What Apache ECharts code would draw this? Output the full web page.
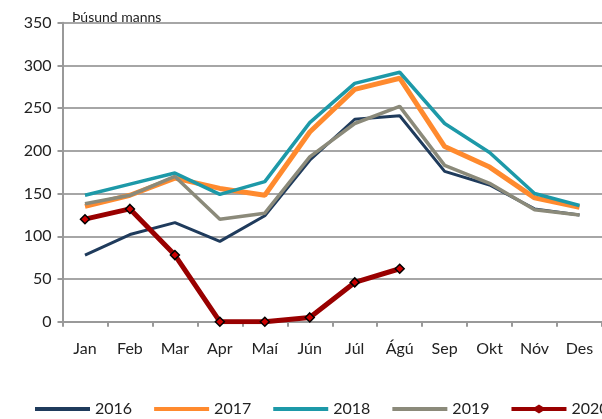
<!DOCTYPE html>
<html>
<head>
<meta charset="utf-8">
<script src="https://cdn.jsdelivr.net/npm/echarts@6/dist/echarts.min.js"></script>
<style>
  html, body { margin: 0; padding: 0; background: #fff; }
  #chart { width: 602px; height: 419px; }
</style>
</head>
<body>
<div id="chart"></div>
<script>
// mánuðir
var months = ['Jan', 'Feb', 'Mar', 'Apr', 'Maí', 'Jún', 'Júl', 'Ágú', 'Sep', 'Okt', 'Nóv', 'Des'];
var yTicks = [0, 50, 100, 150, 200, 250, 300, 350];
var years = ['2016', '2017', '2018', '2019', '2020'];

var y2016 = [78, 102, 116, 94, 124, 189, 237, 241, 176, 160, 132, 125];
var y2017 = [135, 148, 168, 156, 148, 222, 272, 285, 205, 181, 145, 134];
var y2018 = [148, 161, 174, 149, 164, 233, 279, 292, 232, 198, 150, 136];
var y2019 = [138, 148, 170, 120, 127, 193, 232, 252, 183, 162, 131, 125];
var y2020 = [120, 132, 78, 0, 0, 5, 46, 62];

var font = 'Lato, "Open Sans", sans-serif';

// legend icons: plain bar, and bar with a diamond for 2020
var barIcon = 'path://M0,0 L55,0 L55,0 Z M0,4 L55,4 L55,8 L0,8 Z M0,12 L55,12 L55,12 Z';
var diamondIcon = 'path://M0,0 L55,0 L55,0 Z M0,4 L23.5,4 L27.5,1.5 L31.5,4 L55,4 L55,8 L31.5,8 L27.5,10.5 L23.5,8 L0,8 Z M0,12 L55,12 L55,12 Z';

var chart = echarts.init(document.getElementById('chart'), null, { renderer: 'canvas' });

function lineSeries(name, data, color, width) {
  return {
    name: name,
    type: 'line',
    data: data,
    symbol: 'none',
    lineStyle: { color: color, width: width },
    itemStyle: { color: color },
    animation: false
  };
}

var option = {
  backgroundColor: '#fff',
  textStyle: { fontFamily: font },
  title: {
    text: 'Þúsund manns',
    left: 67, top: 5,
    textStyle: { fontFamily: font, fontSize: 14, fontWeight: 'normal', color: '#222' }
  },
  legend: {
    left: 35, top: 401, width: 700,
    padding: 0,
    itemWidth: 55, itemHeight: 12,
    itemGap: 22,
    textStyle: { fontFamily: font, fontSize: 16, color: '#222' },
    data: years.map(function (y, i) {
      if (i === 4) {
        return { name: y, icon: diamondIcon, itemStyle: { color: '#990000', borderWidth: 0 } };
      }
      return { name: y, icon: barIcon };
    })
  },
  grid: { left: 62.5, top: 22.7, width: 552.6, height: 299 },
  xAxis: {
    type: 'category',
    data: months,
    boundaryGap: true,
    axisLine: { lineStyle: { color: '#999', width: 2 } },
    axisTick: { show: true, length: 5, lineStyle: { color: '#999', width: 2 } },
    axisLabel: { fontFamily: font, fontSize: 16, color: '#222', margin: 19 }
  },
  yAxis: {
    type: 'value',
    min: yTicks[0], max: yTicks[yTicks.length - 1], interval: 50,
    axisLine: { show: true, lineStyle: { color: '#999', width: 2 } },
    axisTick: { show: true, length: 5, lineStyle: { color: '#999', width: 2 } },
    axisLabel: { fontFamily: font, fontSize: 16, color: '#222', margin: 11 },
    splitLine: { lineStyle: { color: '#a6a6a6', width: 2 } }
  },
  series: [
    lineSeries(years[0], y2016, '#1f3b5c', 3),
    lineSeries(years[1], y2017, '#ff8a2e', 5),
    lineSeries(years[2], y2018, '#1d99a8', 3.5),
    lineSeries(years[3], y2019, '#8b8a7a', 3.5),
    {
      name: years[4],
      type: 'line',
      data: y2020,
      symbol: 'diamond',
      symbolSize: 9,
      lineStyle: { color: '#990000', width: 5 },
      itemStyle: { color: '#cc0000', borderColor: '#000', borderWidth: 1.5 },
      animation: false
    }
  ]
};
chart.setOption(option);
</script>
</body>
</html>
